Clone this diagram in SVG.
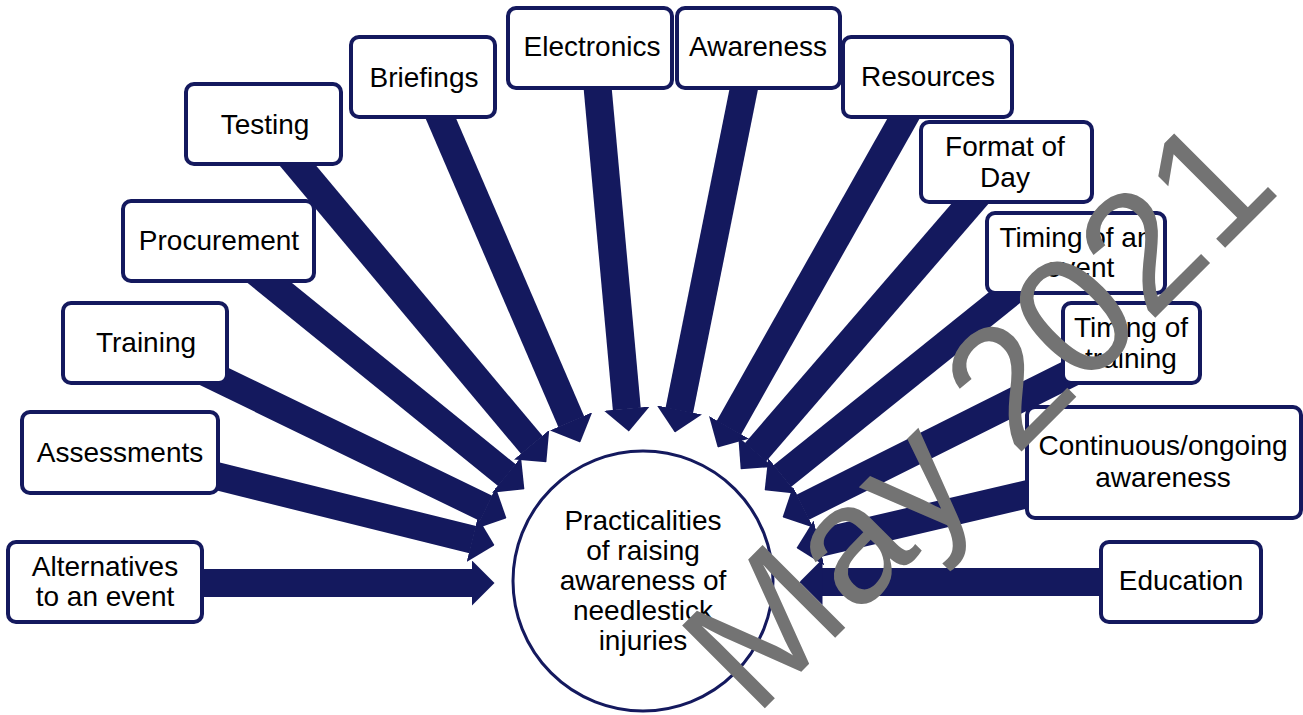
<svg xmlns="http://www.w3.org/2000/svg" width="1303" height="715" viewBox="0 0 1303 715">
<style>
.bx{fill:#fff;stroke:#14195e;stroke-width:4}
.t{font-family:"Liberation Sans",Arial,sans-serif;font-size:28px;fill:#000;text-anchor:middle}
.ar{stroke:#14195e;stroke-width:28;fill:none;marker-end:url(#head)}
.wm{font-family:"Liberation Sans",Arial,sans-serif;font-size:170px;fill:#737373}
</style>
<defs>
<marker id="head" markerUnits="userSpaceOnUse" viewBox="0 0 23 46" markerWidth="23" markerHeight="46" refX="0.5" refY="23" orient="auto">
<path d="M0,0 L23,23 L0,46 Z" fill="#14195e"/>
</marker>
</defs>
<rect width="1303" height="715" fill="#fff"/>
<g id="connectors">
<line class="ar" x1="105" y1="583" x2="472" y2="583"/>
<line class="ar" x1="120" y1="452" x2="472.7" y2="539.7"/>
<line class="ar" x1="145" y1="343" x2="486.2" y2="508.4"/>
<line class="ar" x1="218" y1="241" x2="506.9" y2="475.2"/>
<line class="ar" x1="263" y1="124" x2="531.9" y2="445.1"/>
<line class="ar" x1="423" y1="77" x2="571.3" y2="421.8"/>
<line class="ar" x1="594" y1="48" x2="626.8" y2="409.1"/>
<line class="ar" x1="752" y1="48" x2="679.3" y2="410.4"/>
<line class="ar" x1="927" y1="77" x2="728.8" y2="427.8"/>
<line class="ar" x1="1006" y1="162" x2="755.4" y2="452.3"/>
<line class="ar" x1="1060" y1="253" x2="782.2" y2="476.2"/>
<line class="ar" x1="1131" y1="343" x2="802.7" y2="507.2"/>
<line class="ar" x1="1165" y1="462" x2="818.4" y2="543"/>
<line class="ar" x1="1181" y1="582" x2="822" y2="582"/>
</g>
<g id="center">
<circle cx="643" cy="581" r="130" fill="#fff" stroke="#14195e" stroke-width="3"/>
<text class="t"><tspan x="643" y="530">Practicalities</tspan><tspan x="643" y="560">of raising</tspan><tspan x="643" y="590">awareness of</tspan><tspan x="643" y="620">needlestick</tspan><tspan x="643" y="650">injuries</tspan></text>
</g>
<g id="alternatives"><rect class="bx" x="8" y="542" width="194" height="80" rx="8"/><text class="t"><tspan x="105" y="576">Alternatives</tspan><tspan x="105" y="606">to an event</tspan></text></g>
<g id="assessments"><rect class="bx" x="22" y="412" width="196" height="81" rx="8"/><text class="t" x="120" y="462">Assessments</text></g>
<g id="training"><rect class="bx" x="63" y="303" width="164" height="80" rx="8"/><text class="t" x="146" y="352">Training</text></g>
<g id="procurement"><rect class="bx" x="123" y="201" width="191" height="80" rx="8"/><text class="t" x="219" y="250">Procurement</text></g>
<g id="testing"><rect class="bx" x="186" y="84" width="155" height="80" rx="8"/><text class="t" x="265" y="134">Testing</text></g>
<g id="briefings"><rect class="bx" x="351" y="37" width="144" height="80" rx="8"/><text class="t" x="424" y="87">Briefings</text></g>
<g id="electronics"><rect class="bx" x="508" y="8" width="164" height="80" rx="8"/><text class="t" x="592" y="56">Electronics</text></g>
<g id="awareness"><rect class="bx" x="677" y="8" width="163" height="80" rx="8"/><text class="t" x="758" y="56">Awareness</text></g>
<g id="resources"><rect class="bx" x="843" y="37" width="169" height="80" rx="8"/><text class="t" x="928" y="86">Resources</text></g>
<g id="format"><rect class="bx" x="921" y="122" width="171" height="80" rx="8"/><text class="t"><tspan x="1005" y="156">Format of</tspan><tspan x="1005" y="187">Day</tspan></text></g>
<g id="timing-event"><rect class="bx" x="987" y="213" width="178" height="80" rx="8"/><text class="t"><tspan x="1076" y="247">Timing of an</tspan><tspan x="1080" y="277">event</tspan></text></g>
<g id="timing-training"><rect class="bx" x="1063" y="303" width="137" height="80" rx="8"/><text class="t"><tspan x="1131" y="337">Timing of</tspan><tspan x="1131" y="368">training</tspan></text></g>
<g id="continuous"><rect class="bx" x="1027" y="407" width="274" height="111" rx="8"/><text class="t"><tspan x="1163" y="455">Continuous/ongoing</tspan><tspan x="1163" y="487">awareness</tspan></text></g>
<g id="education"><rect class="bx" x="1101" y="542" width="160" height="80" rx="8"/><text class="t" x="1181" y="590">Education</text></g>
<text class="wm" transform="translate(755,718) rotate(-45)">May 2021</text>
</svg>
